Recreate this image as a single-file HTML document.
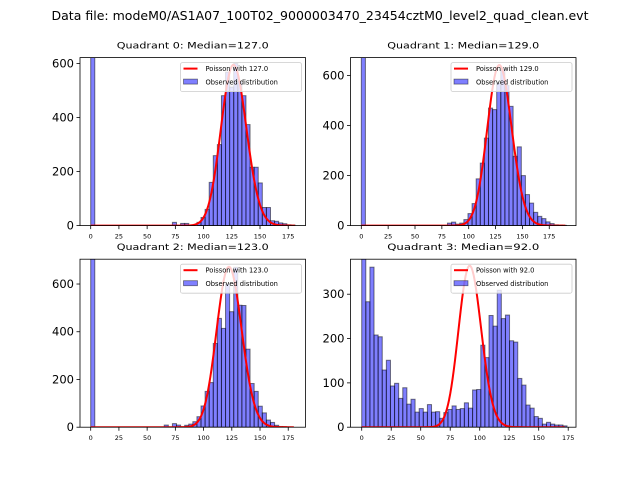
<!DOCTYPE html>
<html><head><meta charset="utf-8"><style>
body{margin:0;background:#fff}
svg{display:block;font-family:"DejaVu Sans","Liberation Sans",sans-serif}
</style></head><body>
<svg id="fig" width="640" height="480" viewBox="0 0 640 480">
<rect width="640" height="480" fill="#fff"/>
<text x="320" y="20" text-anchor="middle" font-size="12" textLength="537" lengthAdjust="spacingAndGlyphs">Data file: modeM0/AS1A07_100T02_9000003470_23454cztM0_level2_quad_clean.evt</text>
</svg>
<script>
const titles = ["Quadrant 0: Median=127.0","Quadrant 1: Median=129.0","Quadrant 2: Median=123.0","Quadrant 3: Median=92.0"];
const lambdas = [127, 129, 123, 92];
const curvePeaks = [595, 642, 672, 364];
const curveMax = [181, 190, 180, 172];
const binWidths = [3.62, 3.82, 3.62, 3.48];
const xMins = [-9.48, -10.06, -9.48, -9.5];
const xMaxs = [190.3, 199.9, 190.3, 181.6];
const yMaxs = [622, 672, 704, 379];
const xTicks = [0,25,50,75,100,125,150,175];
const yTicksA = [0,200,400,600];
const yTicksB = [0,100,200,300];
const counts0 = [1500,0,0,0,0,0,0,0,0,0,0,0,0,0,0,0,0,0,0,0,12,0,8,8,0,0,12,30,60,160,259,300,481,568,513,600,533,481,374,216,216,158,67,67,18,16,10,7,3,2];
const counts1 = [1500,0,0,0,0,0,0,0,0,0,0,0,0,0,0,0,0,0,0,0,0,10,14,6,10,24,48,88,187,250,350,470,464,570,624,560,477,277,315,200,124,90,53,37,28,15,8,3,2,1];
const counts2 = [1500,0,0,0,0,0,0,0,0,0,0,0,0,0,0,0,0,0,9,0,15,9,0,8,13,23,44,89,150,187,351,456,414,600,484,670,511,510,327,183,150,88,60,30,20,8,3,2,1,0];
const counts3 = [390,283,361,208,204,129,151,93,99,65,89,52,63,34,42,34,51,34,35,20,33,40,48,40,42,55,43,84,85,185,157,252,228,309,245,253,195,192,110,95,50,43,24,20,7,11,7,5,5,3];
const allCounts = [counts0, counts1, counts2, counts3];

const NS = "http://www.w3.org/2000/svg";
const svg = document.getElementById('fig');
const W = 225.5, H = 168;
const lefts = [80, 350.5, 80, 350.5];
const tops = [57.6, 57.6, 259.2, 259.2];
function mk(tag, attrs, parent){const e=document.createElementNS(NS,tag);for(const k in attrs)e.setAttribute(k,attrs[k]);parent.appendChild(e);return e;}
function lgamma(n){let s=0;for(let i=2;i<=n;i++)s+=Math.log(i);return s;}
function pmf(k,l){return Math.exp(k*Math.log(l)-l-lgamma(k));}

for(let q=0;q<4;q++){
  const L=lefts[q], T=tops[q];
  const sx=v=>L+(v-xMins[q])/(xMaxs[q]-xMins[q])*W;
  const sy=v=>T+H-v/yMaxs[q]*H;
  const g=mk('g',{},svg);
  
  
  const cp=mk('clipPath',{id:'cp'+q},g);
  mk('rect',{x:L,y:T,width:W,height:H},cp);
  const bars=mk('g',{'clip-path':'url(#cp'+q+')'},g);
  allCounts[q].forEach((c,i)=>{
    if(c<=0) return;
    const x0=sx(i*binWidths[q]), x1=sx((i+1)*binWidths[q]);
    const r=mk('rect',{x:x0,y:sy(c),width:x1-x0,height:sy(0)-sy(c),fill:'rgba(0,0,255,0.5)',stroke:'rgba(0,0,0,0.5)','stroke-width':1},bars);
    
    
  });
  const pk=pmf(Math.floor(lambdas[q]),lambdas[q]);
  let d='';
  for(let k=0;k<=curveMax[q];k++){const y=curvePeaks[q]*pmf(k,lambdas[q])/pk;d+=(k?'L':'M')+sx(k).toFixed(2)+','+sy(y).toFixed(2);}
  const p=mk('path',{d:d,fill:'none',stroke:'#ff0000','stroke-width':2,'clip-path':'url(#cp'+q+')'},g);
  
  
  const fr=mk('rect',{x:L,y:T,width:W,height:H,fill:'none',stroke:'#000','stroke-width':0.8},g);
  
  
  xTicks.forEach(t=>{
    const x=sx(t);
    mk('line',{x1:x,x2:x,y1:T+H,y2:T+H+3.5,stroke:'#000','stroke-width':0.8},g);
    const tx=mk('text',{x:x,y:T+H+13,'font-size':6.5,'text-anchor':'middle'},g);
    tx.textContent=t;
    
    
  });
  (q===3?yTicksB:yTicksA).forEach(t=>{
    const y=sy(t);
    mk('line',{x1:L,x2:L-3.5,y1:y,y2:y,stroke:'#000','stroke-width':0.8},g);
    const tx=mk('text',{x:L-6,y:y+4,'font-size':11.5,'text-anchor':'end'},g);
    tx.textContent=t;
    
    
  });
  const tt=mk('text',{x:L+W/2,y:T-9,'font-size':9,'text-anchor':'middle',textLength:152,lengthAdjust:'spacingAndGlyphs'},g);
  tt.textContent=titles[q];
  
  
  const lg=mk('g',{},g);
  
  
  const lx=L+W-125, ly=T+5;
  mk('rect',{x:lx,y:ly,width:121,height:29,fill:'rgba(255,255,255,0.8)',stroke:'#ccc','stroke-width':0.8,rx:2},lg);
  mk('line',{x1:lx+3,x2:lx+17,y1:ly+6,y2:ly+6,stroke:'#ff0000','stroke-width':2},lg);
  const t1=mk('text',{x:lx+25,y:ly+8.5,'font-size':6.7},lg);
  t1.textContent='Poisson with '+lambdas[q].toFixed(1);
  
  
  mk('rect',{x:lx+3,y:ly+16.5,width:14,height:5,fill:'rgba(0,0,255,0.5)',stroke:'rgba(0,0,0,0.5)','stroke-width':0.8},lg);
  const t2=mk('text',{x:lx+25,y:ly+22,'font-size':6.7},lg);
  t2.textContent='Observed distribution';
  
  
}
</script>
</body></html>
